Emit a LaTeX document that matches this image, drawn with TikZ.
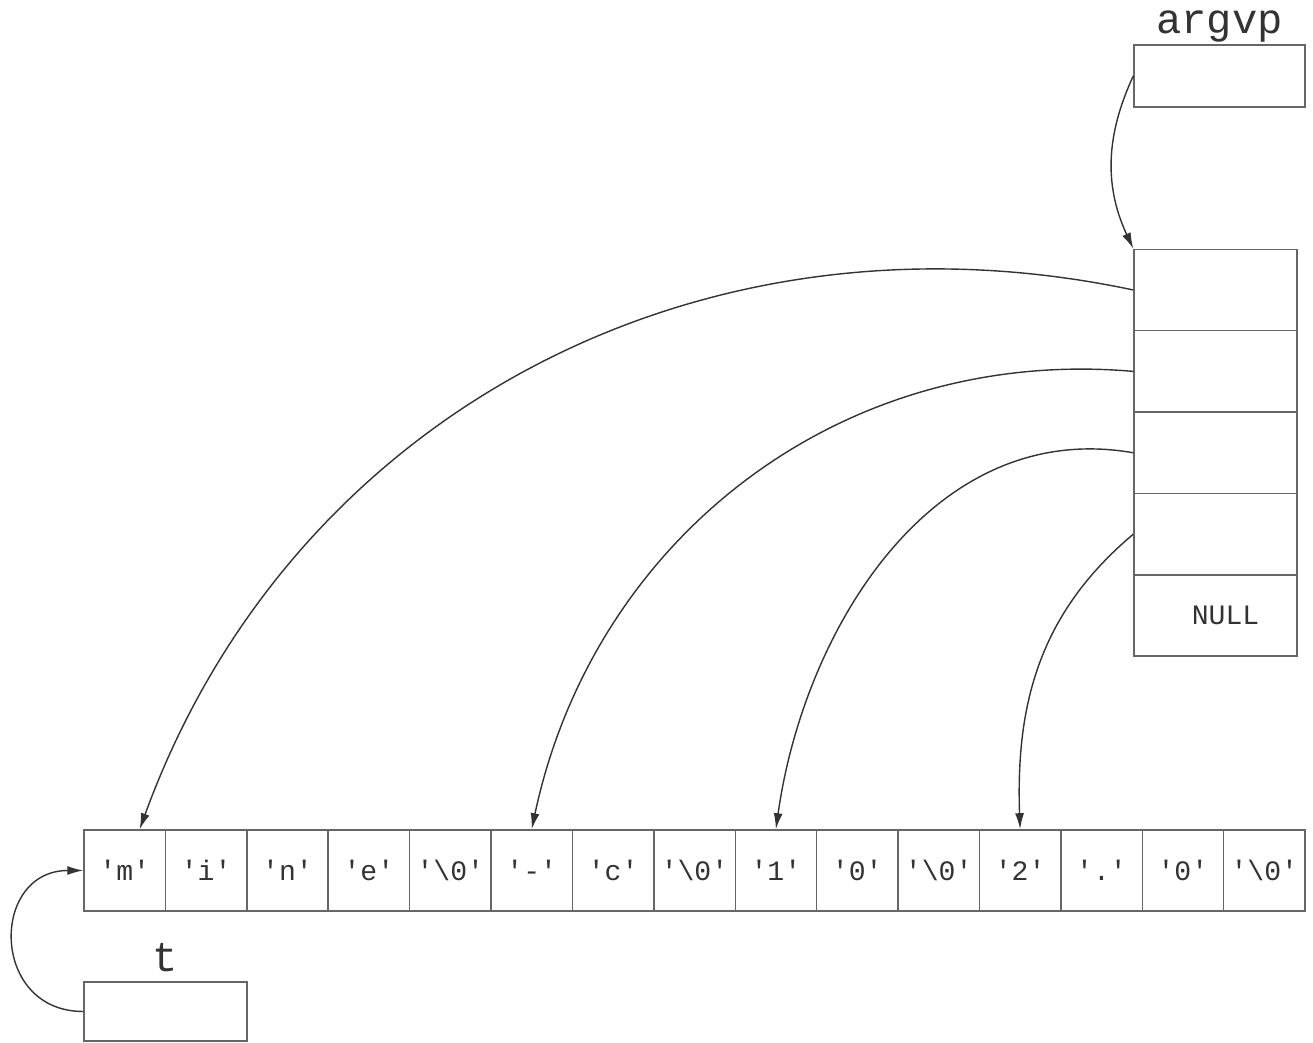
\documentclass[tikz,border=0pt]{standalone}
\usepackage{fontspec}
\setmonofont{Liberation Mono}
\usetikzlibrary{arrows.meta,positioning}

\begin{document}
\begin{tikzpicture}[x=0.2mm,y=0.2mm,->,>={Latex[length=3.2mm,width=1.8mm]},line width=0.8pt,color=black!80]
   \useasboundingbox (0,0) rectangle (1313,1043);
   \tikzstyle{cell}=[rectangle, draw=black!60, minimum width=1.628cm, minimum height=1.624cm, inner sep=0pt, font=\ttfamily\fontsize{16}{18}\selectfont]
   \tikzstyle{var}=[rectangle, draw=black!60, inner sep=0pt]
   \tikzstyle{varlabel}=[inner sep=0pt, font=\ttfamily\fontsize{24}{26}\selectfont]
   % the string buffer
   \foreach \i/\ch in {0/{'m'},1/{'i'},2/{'n'},3/{'e'},4/{'\textbackslash0'},5/{'-'},6/{'c'},7/{'\textbackslash0'},8/{'1'},9/{'0'},10/{'\textbackslash0'},11/{'2'},12/{'.'},13/{'0'},14/{'\textbackslash0'}} {
       \node[cell] (c\i) at (124.7+81.4*\i,172.5) {\ch};
   }
   % the pointer array
   \foreach \i in {0,...,3} {
       \node[cell, minimum width=3.26cm] (p\i) at (1215.5,753-81.4*\i) {};
   }
   \node[cell, minimum width=3.26cm] (p4) at (1215.5,427.5) {\hspace*{0.4cm}NULL};
   % variables
   \node[var, minimum width=3.42cm, minimum height=1.24cm] (argvp) at (1219.5,967) {};
   \node[varlabel, above=1pt of argvp] (argvplbl) {argvp};
   \node[var, minimum width=3.26cm, minimum height=1.18cm] (t) at (165.5,31.5) {};
   \node[varlabel, above=5pt of t] (tlbl) {t};
   % pointers
   \path (argvp.west) edge[out=245,in=115] (p0.north west);
   \path (p0.west) edge[out=168,in=70] ([xshift=0.3cm]c0.north);
   \path (p1.west) edge[out=175,in=78] (c5.north);
   \path (p2.west) edge[out=170,in=82] (c8.north);
   \path (p3.west) edge[out=220,in=92] (c11.north);
   \path (t.west) edge[out=180,in=180,looseness=1.7] (c0.west);
\end{tikzpicture}
\end{document}
